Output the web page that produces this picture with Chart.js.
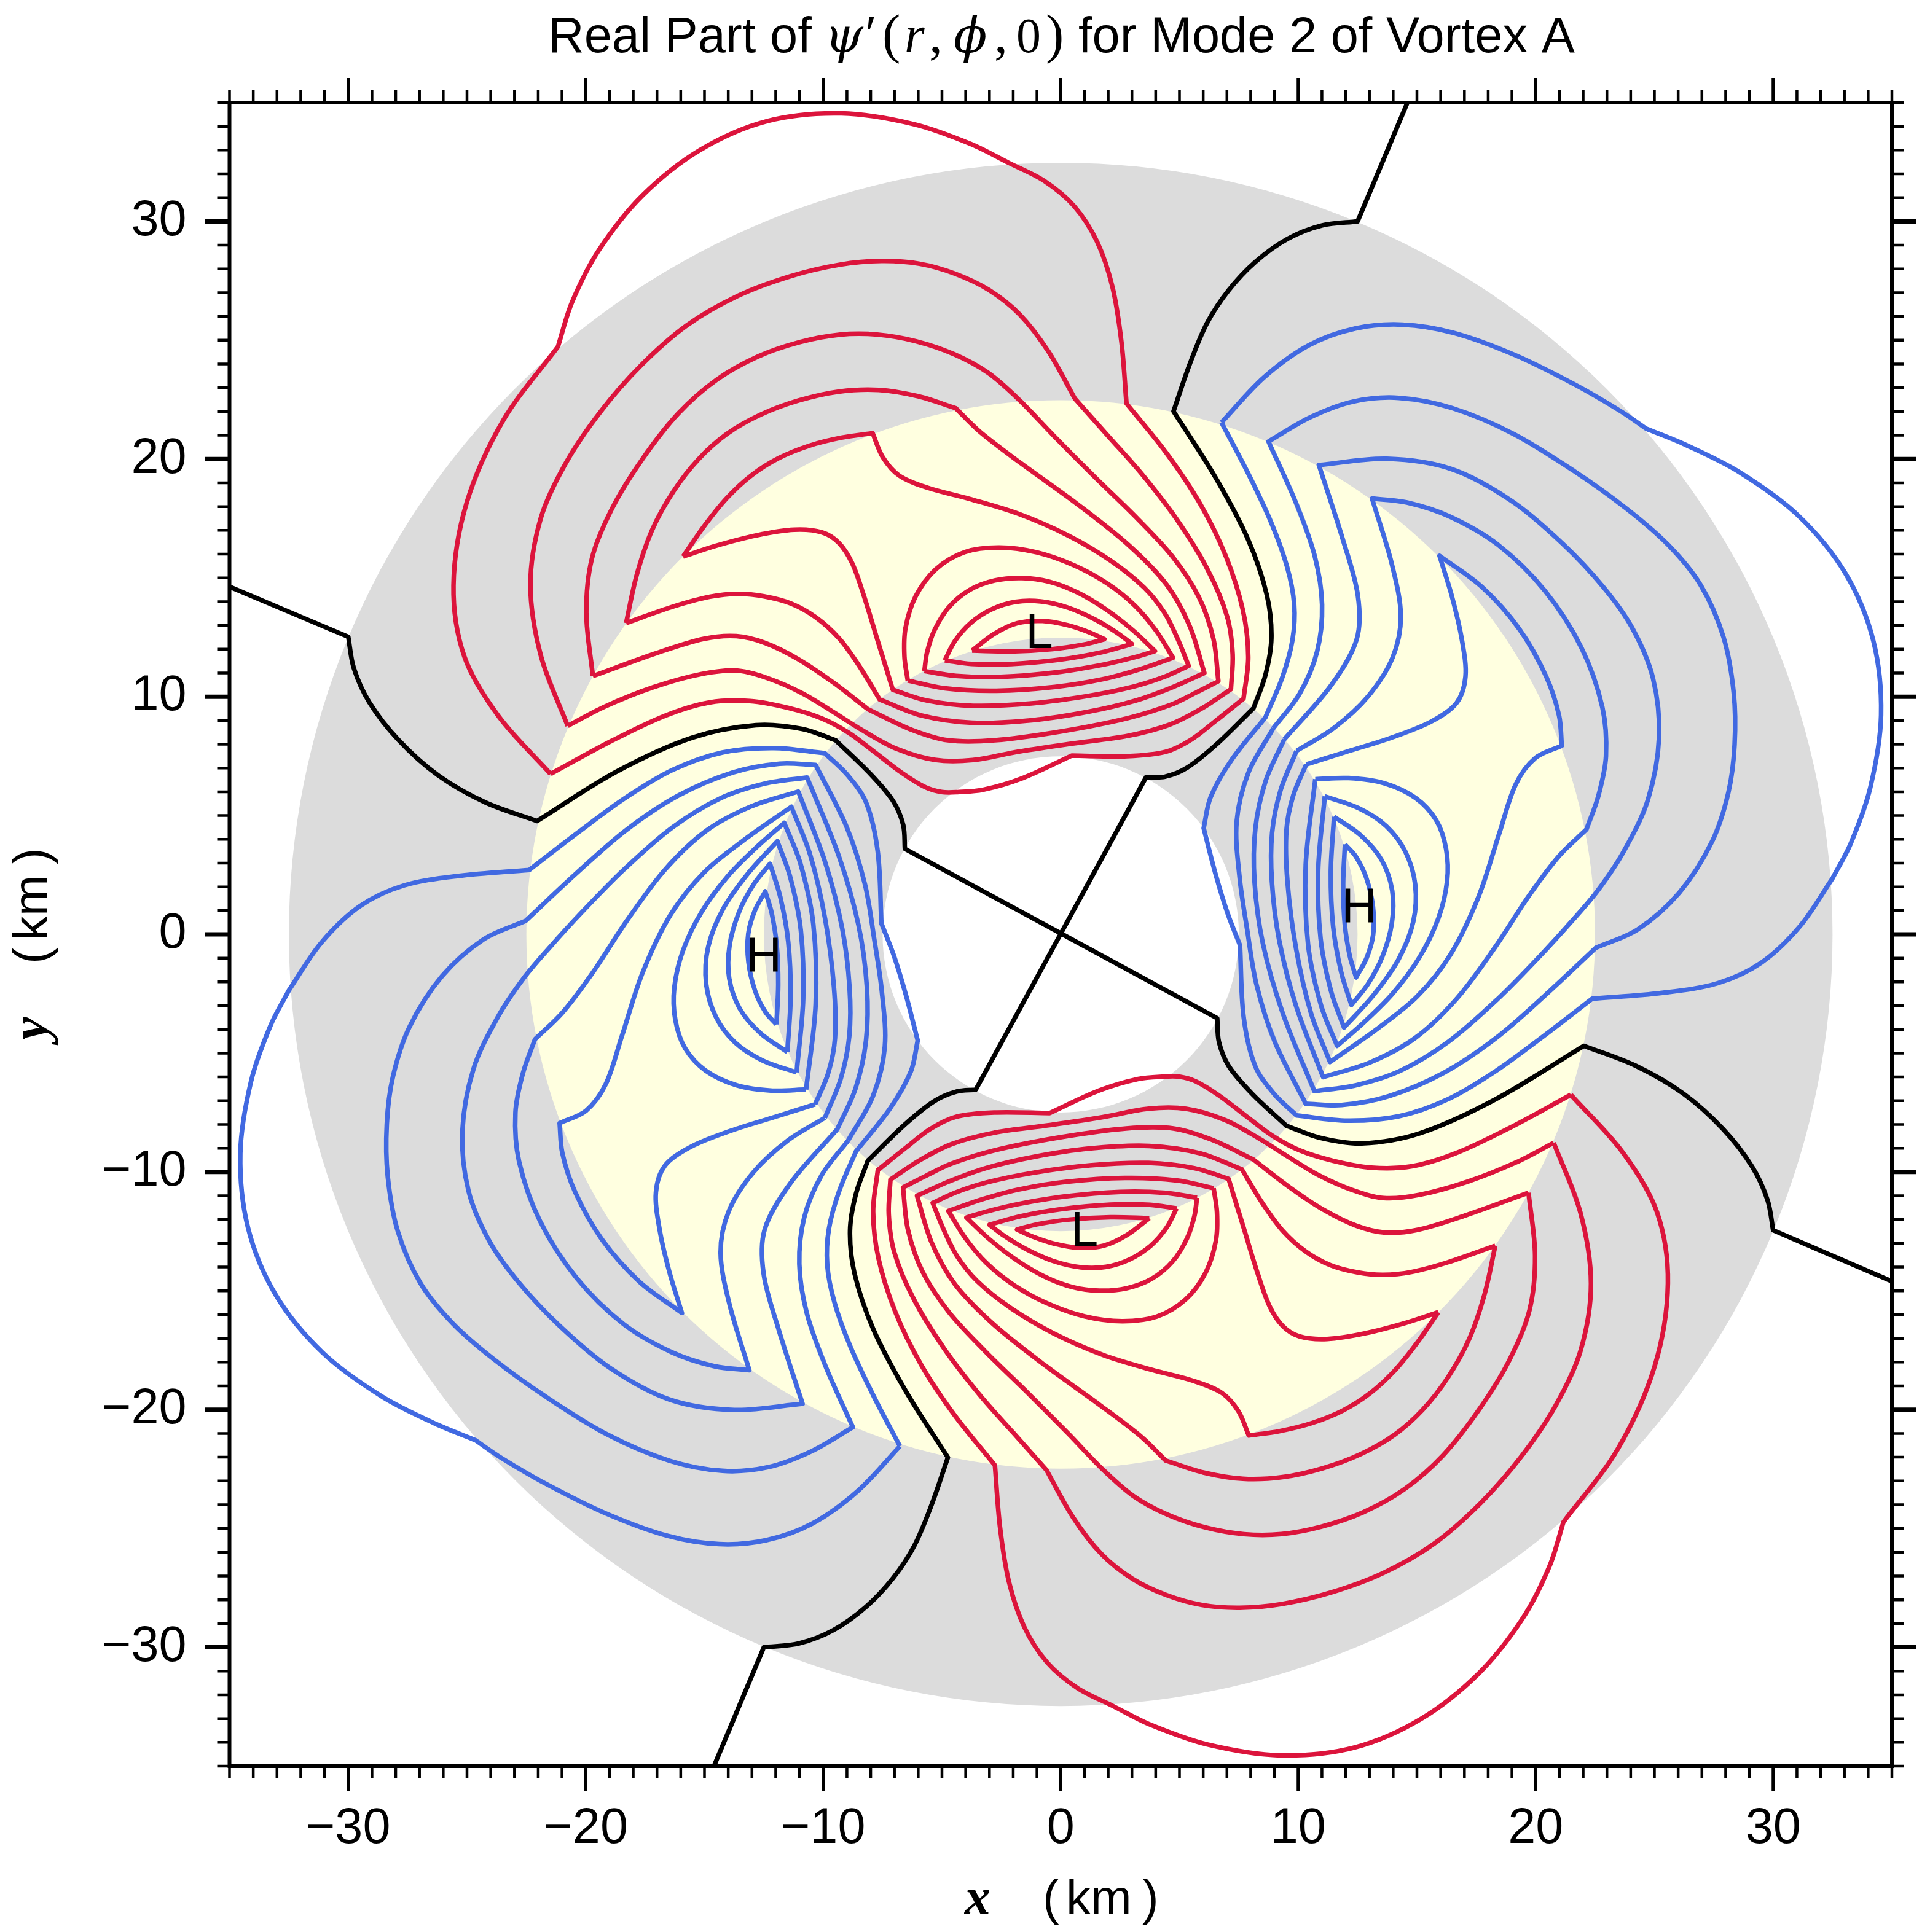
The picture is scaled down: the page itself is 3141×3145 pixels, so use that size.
<!DOCTYPE html>
<html>
<head>
<meta charset="utf-8">
<title>Real Part of psi' for Mode 2 of Vortex A</title>
<script src="https://cdn.jsdelivr.net/npm/chart.js@4"></script>
<style>
  html, body { margin: 0; padding: 0; background: #fff; }
  canvas { display: block; }
</style>
</head>
<body>
<canvas id="chart" width="3141" height="3145"></canvas>
<script>
// contours are flat x,y lists in km; a pair written twice is a sharp corner
const redTop1 = [-3.73,11.94, -2.77,12.71, -1.85,13.08, -0.81,13.21, 0.34,13.01, 1.27,12.66, 1.84,12.42, 1.84,12.42, 1.27,12.22, -0.47,12.0, -2.2,11.85, -3.73,11.94];
const redTop2 = [-4.88,11.53, -4.51,12.32, -3.81,13.11, -2.89,13.7, -1.85,13.97, -0.93,14.0, 0.34,13.8, 1.5,13.2, 2.42,12.66, 3.0,12.22, 3.0,12.22, 1.84,11.87, 0.11,11.58, -2.2,11.33, -3.93,11.38, -4.88,11.53];
const redTop3 = [-5.74,11.08, -5.66,11.72, -5.32,12.81, -4.74,13.8, -3.81,14.5, -2.78,14.89, -1.62,14.97, -0.47,14.84, 0.69,14.4, 1.84,13.7, 3.21,12.71, 3.97,11.92, 3.97,11.92, 3.21,11.67, 1.7,11.37, 0.11,11.03, -2.78,10.78, -4.51,10.88, -5.74,11.08];
const redTop4 = [-6.44,10.68, -6.59,11.72, -6.53,12.71, -6.13,14.3, -5.32,15.39, -3.93,16.08, -2.66,16.28, -1.04,16.08, 0.69,15.49, 1.84,14.79, 3.21,13.8, 4.0,12.82, 4.73,11.64, 4.73,11.64, 3.21,11.08, 1.7,10.78, 0.11,10.44, -2.89,10.19, -5.09,10.34, -6.44,10.68];
const redTop5 = [-15.9,15.9, -15.0,17.2, -14.07,18.38, -13.0,19.3, -11.93,20.03, -10.6,20.55, -9.16,20.94, -7.92,21.09, -7.92,21.09, -7.46,20.03, -6.8,19.24, -5.74,18.84, -3.76,18.31, -1.78,17.72, 0.2,16.86, 2.18,15.67, 3.63,14.51, 4.27,13.62, 4.93,12.43, 5.39,11.3, 5.39,11.3, 4.4,10.85, 3.21,10.44, 1.1,10.05, -1.04,9.74, -3.93,9.55, -5.66,9.84, -7.07,10.29, -7.07,10.29, -7.74,12.32, -8.32,14.4, -8.78,15.59, -9.36,16.48, -10.05,16.87, -11.2,17.04, -12.59,16.87, -14.9,16.23, -15.9,15.9];
const redTop6 = [-18.3,13.1, -17.9,15.1, -17.21,17.06, -16.3,18.6, -15.23,20.03, -14.0,21.05, -12.76,21.85, -11.0,22.45, -9.16,22.84, -7.98,22.93, -5.74,22.67, -4.42,22.14, -4.42,22.14, -3.63,21.2, -1.78,19.9, 0.86,18.05, 2.84,16.33, 4.53,14.67, 5.45,13.09, 6.05,11.0, 6.05,11.0, 4.6,10.4, 3.21,9.79, 1.1,9.4, -1.04,9.05, -3.93,8.85, -5.9,9.15, -7.63,9.89, -7.63,9.89, -8.44,11.23, -9.36,12.52, -10.28,13.31, -11.32,13.9, -12.59,14.25, -13.52,14.3, -14.9,14.15, -16.06,13.93, -18.3,13.1];
const redTop7 = [-19.7,10.87, -20.1,13.76, -19.75,15.7, -18.86,17.88, -17.6,20.0, -16.06,22.01, -14.5,23.3, -12.76,24.32, -11.0,24.9, -9.16,25.23, -7.85,25.24, -6.1,24.95, -4.42,24.39, -3.0,23.6, -1.78,22.54, -0.46,21.09, 1.52,19.11, 3.21,17.5, 4.66,15.99, 5.85,14.17, 6.51,12.42, 6.64,10.65, 6.64,10.65, 5.6,10.15, 4.53,9.7, 3.21,9.1, 0.11,8.55, -3.35,8.16, -4.5,8.16, -6.24,8.56, -8.11,9.47, -8.11,9.47, -9.7,10.63, -10.86,11.53, -12.59,12.32, -13.75,12.5, -14.9,12.42, -16.88,11.94, -19.7,10.87];
const redTop8 = [-20.76,8.77, -21.99,11.62, -22.41,14.58, -21.83,17.88, -20.84,19.54, -19.35,22.0, -17.7,23.99, -15.73,25.56, -13.58,26.96, -11.44,27.62, -9.16,28.2, -7.59,28.32, -6.0,28.2, -4.42,27.82, -3.0,27.05, -1.78,26.1, -0.46,24.65, 0.6,22.54, 0.6,22.54, 2.18,20.69, 3.21,19.62, 4.93,17.44, 6.25,15.33, 7.04,13.22, 7.24,11.9, 7.17,10.32, 7.17,10.32, 5.85,9.52, 4.53,8.8, 3.21,8.3, 0.11,8.06, -1.62,7.81, -3.93,7.27, -5.09,7.27, -6.82,7.76, -8.67,8.75, -9.36,9.25, -10.86,10.14, -12.36,10.83, -13.75,11.05, -14.9,10.93, -16.88,10.6, -19.77,9.34, -20.76,8.77];
const redTop9 = [-21.48,6.75, -23.97,9.34, -24.97,11.62, -25.54,14.58, -25.13,18.05, -23.48,22.01, -21.17,24.73, -21.17,24.73, -20.67,26.47, -19.48,28.72, -17.6,31.16, -15.18,33.03, -12.34,34.2, -9.3,34.6, -6.26,34.2, -3.43,33.03, -2.18,32.46, -2.18,32.46, -0.72,31.84, 0.6,30.59, 1.52,29.14, 2.18,27.29, 2.58,24.91, 2.77,22.34, 2.77,22.34, 4.53,20.08, 5.85,18.24, 6.91,16.12, 7.7,13.22, 7.99,11.9, 7.7,9.92, 7.7,9.92, 6.51,8.99, 5.45,8.2, 4.27,7.61, 3.21,7.52, 0.46,7.52, 0.46,7.52, -1.62,6.38, -3.35,6.1, -4.39,6.1, -4.97,5.98, -5.66,6.18, -6.59,6.67, -7.97,7.76, -9.01,8.6, -9.94,8.95, -11.44,9.55, -13.17,9.84, -14.9,9.69, -16.4,9.34, -19.0,8.1, -21.48,6.75];

const redBottom1 = [3.73,-11.94, 2.77,-12.71, 1.85,-13.08, 0.81,-13.21, -0.34,-13.01, -1.27,-12.66, -1.84,-12.42, -1.84,-12.42, -1.27,-12.22, 0.47,-12.0, 2.2,-11.85, 3.73,-11.94];
const redBottom2 = [4.88,-11.53, 4.51,-12.32, 3.81,-13.11, 2.89,-13.7, 1.85,-13.97, 0.93,-14.0, -0.34,-13.8, -1.5,-13.2, -2.42,-12.66, -3.0,-12.22, -3.0,-12.22, -1.84,-11.87, -0.11,-11.58, 2.2,-11.33, 3.93,-11.38, 4.88,-11.53];
const redBottom3 = [5.74,-11.08, 5.66,-11.72, 5.32,-12.81, 4.74,-13.8, 3.81,-14.5, 2.78,-14.89, 1.62,-14.97, 0.47,-14.84, -0.69,-14.4, -1.84,-13.7, -3.21,-12.71, -3.97,-11.92, -3.97,-11.92, -3.21,-11.67, -1.7,-11.37, -0.11,-11.03, 2.78,-10.78, 4.51,-10.88, 5.74,-11.08];
const redBottom4 = [6.44,-10.68, 6.59,-11.72, 6.53,-12.71, 6.13,-14.3, 5.32,-15.39, 3.93,-16.08, 2.66,-16.28, 1.04,-16.08, -0.69,-15.49, -1.84,-14.79, -3.21,-13.8, -4.0,-12.82, -4.73,-11.64, -4.73,-11.64, -3.21,-11.08, -1.7,-10.78, -0.11,-10.44, 2.89,-10.19, 5.09,-10.34, 6.44,-10.68];
const redBottom5 = [15.9,-15.9, 15.0,-17.2, 14.07,-18.38, 13.0,-19.3, 11.93,-20.03, 10.6,-20.55, 9.16,-20.94, 7.92,-21.09, 7.92,-21.09, 7.46,-20.03, 6.8,-19.24, 5.74,-18.84, 3.76,-18.31, 1.78,-17.72, -0.2,-16.86, -2.18,-15.67, -3.63,-14.51, -4.27,-13.62, -4.93,-12.43, -5.39,-11.3, -5.39,-11.3, -4.4,-10.85, -3.21,-10.44, -1.1,-10.05, 1.04,-9.74, 3.93,-9.55, 5.66,-9.84, 7.07,-10.29, 7.07,-10.29, 7.74,-12.32, 8.32,-14.4, 8.78,-15.59, 9.36,-16.48, 10.05,-16.87, 11.2,-17.04, 12.59,-16.87, 14.9,-16.23, 15.9,-15.9];
const redBottom6 = [18.3,-13.1, 17.9,-15.1, 17.21,-17.06, 16.3,-18.6, 15.23,-20.03, 14.0,-21.05, 12.76,-21.85, 11.0,-22.45, 9.16,-22.84, 7.98,-22.93, 5.74,-22.67, 4.42,-22.14, 4.42,-22.14, 3.63,-21.2, 1.78,-19.9, -0.86,-18.05, -2.84,-16.33, -4.53,-14.67, -5.45,-13.09, -6.05,-11.0, -6.05,-11.0, -4.6,-10.4, -3.21,-9.79, -1.1,-9.4, 1.04,-9.05, 3.93,-8.85, 5.9,-9.15, 7.63,-9.89, 7.63,-9.89, 8.44,-11.23, 9.36,-12.52, 10.28,-13.31, 11.32,-13.9, 12.59,-14.25, 13.52,-14.3, 14.9,-14.15, 16.06,-13.93, 18.3,-13.1];
const redBottom7 = [19.7,-10.87, 20.1,-13.76, 19.75,-15.7, 18.86,-17.88, 17.6,-20.0, 16.06,-22.01, 14.5,-23.3, 12.76,-24.32, 11.0,-24.9, 9.16,-25.23, 7.85,-25.24, 6.1,-24.95, 4.42,-24.39, 3.0,-23.6, 1.78,-22.54, 0.46,-21.09, -1.52,-19.11, -3.21,-17.5, -4.66,-15.99, -5.85,-14.17, -6.51,-12.42, -6.64,-10.65, -6.64,-10.65, -5.6,-10.15, -4.53,-9.7, -3.21,-9.1, -0.11,-8.55, 3.35,-8.16, 4.5,-8.16, 6.24,-8.56, 8.11,-9.47, 8.11,-9.47, 9.7,-10.63, 10.86,-11.53, 12.59,-12.32, 13.75,-12.5, 14.9,-12.42, 16.88,-11.94, 19.7,-10.87];
const redBottom8 = [20.76,-8.77, 21.99,-11.62, 22.41,-14.58, 21.83,-17.88, 20.84,-19.54, 19.35,-22.0, 17.7,-23.99, 15.73,-25.56, 13.58,-26.96, 11.44,-27.62, 9.16,-28.2, 7.59,-28.32, 6.0,-28.2, 4.42,-27.82, 3.0,-27.05, 1.78,-26.1, 0.46,-24.65, -0.6,-22.54, -0.6,-22.54, -2.18,-20.69, -3.21,-19.62, -4.93,-17.44, -6.25,-15.33, -7.04,-13.22, -7.24,-11.9, -7.17,-10.32, -7.17,-10.32, -5.85,-9.52, -4.53,-8.8, -3.21,-8.3, -0.11,-8.06, 1.62,-7.81, 3.93,-7.27, 5.09,-7.27, 6.82,-7.76, 8.67,-8.75, 9.36,-9.25, 10.86,-10.14, 12.36,-10.83, 13.75,-11.05, 14.9,-10.93, 16.88,-10.6, 19.77,-9.34, 20.76,-8.77];
const redBottom9 = [21.48,-6.75, 23.97,-9.34, 24.97,-11.62, 25.54,-14.58, 25.13,-18.05, 23.48,-22.01, 21.17,-24.73, 21.17,-24.73, 20.67,-26.47, 19.48,-28.72, 17.6,-31.16, 15.18,-33.03, 12.34,-34.2, 9.3,-34.6, 6.26,-34.2, 3.43,-33.03, 2.18,-32.46, 2.18,-32.46, 0.72,-31.84, -0.6,-30.59, -1.52,-29.14, -2.18,-27.29, -2.58,-24.91, -2.77,-22.34, -2.77,-22.34, -4.53,-20.08, -5.85,-18.24, -6.91,-16.12, -7.7,-13.22, -7.99,-11.9, -7.7,-9.92, -7.7,-9.92, -6.51,-8.99, -5.45,-8.2, -4.27,-7.61, -3.21,-7.52, -0.46,-7.52, -0.46,-7.52, 1.62,-6.38, 3.35,-6.1, 4.39,-6.1, 4.97,-5.98, 5.66,-6.18, 6.59,-6.67, 7.97,-7.76, 9.01,-8.6, 9.94,-8.95, 11.44,-9.55, 13.17,-9.84, 14.9,-9.69, 16.4,-9.34, 19.0,-8.1, 21.48,-6.75];

const blueRight1 = [11.97,3.79, 12.37,3.37, 12.9,2.44, 13.16,1.12, 13.16,-0.07, 12.9,-0.99, 12.44,-1.81, 12.44,-1.81, 12.17,-0.99, 11.97,0.33, 11.84,2.31, 11.97,3.79];
const blueRight2 = [11.51,4.95, 12.63,4.29, 13.56,3.1, 13.95,1.78, 13.95,0.59, 13.56,-0.99, 12.9,-2.18, 12.24,-2.97, 12.24,-2.97, 11.84,-1.78, 11.45,0.33, 11.31,2.71, 11.51,4.95];
const blueRight3 = [11.12,5.81, 12.63,5.35, 13.69,4.55, 14.48,3.5, 14.94,2.05, 14.88,0.59, 14.22,-1.12, 13.16,-2.57, 11.93,-3.92, 11.93,-3.92, 11.45,-2.71, 10.92,-0.07, 10.72,2.71, 11.12,5.81];
const blueRight4 = [10.72,6.53, 11.97,6.64, 13.69,6.34, 15.01,5.74, 15.8,4.82, 16.2,3.5, 16.26,2.31, 15.93,0.73, 15.14,-0.99, 13.95,-2.57, 12.77,-3.63, 11.64,-4.69, 11.64,-4.69, 11.05,-3.37, 10.39,-0.33, 10.15,2.97, 10.72,6.53];
const blueRight5 = [10.34,7.15, 12.0,7.7, 13.77,8.27, 15.75,8.93, 16.67,9.79, 17.0,10.84, 16.94,12.16, 16.41,14.54, 15.95,15.93, 15.95,15.93, 17.73,14.8, 19.31,12.96, 20.5,10.58, 21.03,9.26, 21.1,7.94, 21.1,7.94, 19.89,7.39, 19.1,6.4, 18.57,4.55, 17.65,1.39, 16.33,-0.99, 15.01,-2.57, 13.43,-3.89, 11.34,-5.37, 11.34,-5.37, 10.52,-3.63, 9.93,-0.73, 9.53,2.44, 9.53,4.55, 9.73,5.61, 10.34,7.15];
const blueRight6 = [9.93,7.72, 11.4,8.7, 12.98,9.79, 14.03,11.9, 14.3,13.48, 14.03,15.2, 13.11,18.34, 13.11,18.34, 14.43,18.24, 16.41,17.58, 18.39,16.39, 20.37,14.54, 21.95,12.16, 22.88,9.26, 22.94,7.68, 22.61,5.72, 22.14,4.42, 22.14,4.42, 20.95,3.37, 19.76,1.78, 18.31,-0.59, 16.59,-2.84, 15.01,-4.29, 13.03,-5.48, 11.05,-6.01, 11.05,-6.01, 9.73,-2.97, 9.27,-0.33, 8.94,2.31, 8.87,4.29, 9.2,6.0, 9.93,7.72];
const blueRight7 = [9.41,8.2, 11.66,10.58, 12.45,12.56, 12.45,14.14, 11.92,16.52, 10.87,19.75, 10.87,19.75, 13.77,20.22, 16.41,19.56, 19.05,18.24, 21.03,16.52, 23.01,14.27, 23.91,13.09, 24.91,10.89, 25.31,8.25, 24.78,5.61, 23.59,3.5, 22.51,1.65, 21.61,0.73, 20.29,-0.73, 18.31,-2.84, 16.33,-4.55, 14.35,-5.74, 12.37,-6.4, 10.68,-6.6, 10.68,-6.6, 9.07,-3.23, 8.67,-0.46, 8.21,2.31, 8.08,4.29, 8.67,6.67, 9.41,8.2];
const blueRight8 = [8.95,8.67, 10.07,10.05, 10.87,11.9, 11.0,13.88, 10.6,16.12, 10.07,17.84, 8.75,20.74, 8.75,20.74, 10.47,21.87, 12.45,22.39, 14.17,22.53, 16.41,22.2, 19.05,21.14, 21.69,19.42, 23.91,17.77, 25.5,16.35, 26.93,14.95, 27.97,12.35, 28.33,10.2, 28.33,7.94, 28.0,5.9, 27.6,4.2, 26.1,1.65, 24.12,-0.07, 22.53,-0.57, 22.53,-0.57, 20.29,-2.57, 18.31,-4.42, 16.33,-5.74, 13.69,-6.93, 11.71,-7.19, 10.32,-7.13, 10.32,-7.13, 8.81,-4.29, 8.21,-2.31, 8.01,0.33, 7.62,2.31, 7.22,4.69, 7.88,6.93, 8.95,8.67];
const blueRight9 = [6.77,21.54, 8.49,23.52, 10.47,24.84, 12.45,25.43, 14.43,25.63, 16.41,25.36, 19.05,24.44, 21.69,23.12, 23.91,21.8, 24.65,21.28, 24.65,21.28, 25.89,20.65, 28.72,19.48, 31.16,17.6, 33.03,15.18, 34.2,12.34, 34.6,9.3, 34.2,6.26, 33.03,3.43, 32.49,2.34, 32.49,2.34, 31.6,0.41, 29.0,-1.4, 27.79,-1.98, 25.57,-2.44, 22.38,-2.71, 22.38,-2.71, 20.29,-4.29, 18.31,-5.74, 16.33,-6.93, 14.35,-7.66, 11.97,-7.92, 9.93,-7.62, 9.93,-7.62, 9.07,-6.67, 8.15,-5.48, 7.62,-3.89, 7.55,-0.46, 7.55,-0.46, 7.09,0.33, 6.45,3.0, 6.02,4.47, 6.02,4.47, 6.11,5.72, 7.17,7.28, 8.62,9.13, 8.62,9.13, 9.41,10.71, 9.74,12.56, 9.81,13.88, 9.55,15.33, 8.89,17.44, 7.83,19.42, 6.77,21.54];

const blueLeft1 = [-11.97,-3.79, -12.37,-3.37, -12.9,-2.44, -13.16,-1.12, -13.16,0.07, -12.9,0.99, -12.44,1.81, -12.44,1.81, -12.17,0.99, -11.97,-0.33, -11.84,-2.31, -11.97,-3.79];
const blueLeft2 = [-11.51,-4.95, -12.63,-4.29, -13.56,-3.1, -13.95,-1.78, -13.95,-0.59, -13.56,0.99, -12.9,2.18, -12.24,2.97, -12.24,2.97, -11.84,1.78, -11.45,-0.33, -11.31,-2.71, -11.51,-4.95];
const blueLeft3 = [-11.12,-5.81, -12.63,-5.35, -13.69,-4.55, -14.48,-3.5, -14.94,-2.05, -14.88,-0.59, -14.22,1.12, -13.16,2.57, -11.93,3.92, -11.93,3.92, -11.45,2.71, -10.92,0.07, -10.72,-2.71, -11.12,-5.81];
const blueLeft4 = [-10.72,-6.53, -11.97,-6.64, -13.69,-6.34, -15.01,-5.74, -15.8,-4.82, -16.2,-3.5, -16.26,-2.31, -15.93,-0.73, -15.14,0.99, -13.95,2.57, -12.77,3.63, -11.64,4.69, -11.64,4.69, -11.05,3.37, -10.39,0.33, -10.15,-2.97, -10.72,-6.53];
const blueLeft5 = [-10.34,-7.15, -12.0,-7.7, -13.77,-8.27, -15.75,-8.93, -16.67,-9.79, -17.0,-10.84, -16.94,-12.16, -16.41,-14.54, -15.95,-15.93, -15.95,-15.93, -17.73,-14.8, -19.31,-12.96, -20.5,-10.58, -21.03,-9.26, -21.1,-7.94, -21.1,-7.94, -19.89,-7.39, -19.1,-6.4, -18.57,-4.55, -17.65,-1.39, -16.33,0.99, -15.01,2.57, -13.43,3.89, -11.34,5.37, -11.34,5.37, -10.52,3.63, -9.93,0.73, -9.53,-2.44, -9.53,-4.55, -9.73,-5.61, -10.34,-7.15];
const blueLeft6 = [-9.93,-7.72, -11.4,-8.7, -12.98,-9.79, -14.03,-11.9, -14.3,-13.48, -14.03,-15.2, -13.11,-18.34, -13.11,-18.34, -14.43,-18.24, -16.41,-17.58, -18.39,-16.39, -20.37,-14.54, -21.95,-12.16, -22.88,-9.26, -22.94,-7.68, -22.61,-5.72, -22.14,-4.42, -22.14,-4.42, -20.95,-3.37, -19.76,-1.78, -18.31,0.59, -16.59,2.84, -15.01,4.29, -13.03,5.48, -11.05,6.01, -11.05,6.01, -9.73,2.97, -9.27,0.33, -8.94,-2.31, -8.87,-4.29, -9.2,-6.0, -9.93,-7.72];
const blueLeft7 = [-9.41,-8.2, -11.66,-10.58, -12.45,-12.56, -12.45,-14.14, -11.92,-16.52, -10.87,-19.75, -10.87,-19.75, -13.77,-20.22, -16.41,-19.56, -19.05,-18.24, -21.03,-16.52, -23.01,-14.27, -23.91,-13.09, -24.91,-10.89, -25.31,-8.25, -24.78,-5.61, -23.59,-3.5, -22.51,-1.65, -21.61,-0.73, -20.29,0.73, -18.31,2.84, -16.33,4.55, -14.35,5.74, -12.37,6.4, -10.68,6.6, -10.68,6.6, -9.07,3.23, -8.67,0.46, -8.21,-2.31, -8.08,-4.29, -8.67,-6.67, -9.41,-8.2];
const blueLeft8 = [-8.95,-8.67, -10.07,-10.05, -10.87,-11.9, -11.0,-13.88, -10.6,-16.12, -10.07,-17.84, -8.75,-20.74, -8.75,-20.74, -10.47,-21.87, -12.45,-22.39, -14.17,-22.53, -16.41,-22.2, -19.05,-21.14, -21.69,-19.42, -23.91,-17.77, -25.5,-16.35, -26.93,-14.95, -27.97,-12.35, -28.33,-10.2, -28.33,-7.94, -28.0,-5.9, -27.6,-4.2, -26.1,-1.65, -24.12,0.07, -22.53,0.57, -22.53,0.57, -20.29,2.57, -18.31,4.42, -16.33,5.74, -13.69,6.93, -11.71,7.19, -10.32,7.13, -10.32,7.13, -8.81,4.29, -8.21,2.31, -8.01,-0.33, -7.62,-2.31, -7.22,-4.69, -7.88,-6.93, -8.95,-8.67];
const blueLeft9 = [-6.77,-21.54, -8.49,-23.52, -10.47,-24.84, -12.45,-25.43, -14.43,-25.63, -16.41,-25.36, -19.05,-24.44, -21.69,-23.12, -23.91,-21.8, -24.65,-21.28, -24.65,-21.28, -25.89,-20.65, -28.72,-19.48, -31.16,-17.6, -33.03,-15.18, -34.2,-12.34, -34.6,-9.3, -34.2,-6.26, -33.03,-3.43, -32.49,-2.34, -32.49,-2.34, -31.6,-0.41, -29.0,1.4, -27.79,1.98, -25.57,2.44, -22.38,2.71, -22.38,2.71, -20.29,4.29, -18.31,5.74, -16.33,6.93, -14.35,7.66, -11.97,7.92, -9.93,7.62, -9.93,7.62, -9.07,6.67, -8.15,5.48, -7.62,3.89, -7.55,0.46, -7.55,0.46, -7.09,-0.33, -6.45,-3.0, -6.02,-4.47, -6.02,-4.47, -6.11,-5.72, -7.17,-7.28, -8.62,-9.13, -8.62,-9.13, -9.41,-10.71, -9.74,-12.56, -9.81,-13.88, -9.55,-15.33, -8.89,-17.44, -7.83,-19.42, -6.77,-21.54];

const blackA = [14.6,35, 12.5,30, 12.5,30, 10.95,29.95, 9.68,29.27, 8.12,28.28, 7.06,27.03, 6.14,25.71, 5.48,24.12, 4.75,22.01, 4.75,22.01, 6.64,19.03, 7.83,16.92, 8.75,13.88, 8.86,12.69, 8.62,10.84, 8.12,9.52, 8.12,9.52, 6.51,7.94, 5.32,6.95, 4.4,6.65, 3.6,6.62, 3.6,6.62, -3.58,-6.54, -3.58,-6.54, -4.4,-6.65, -5.32,-6.95, -6.51,-7.94, -8.12,-9.52, -8.12,-9.52, -8.62,-10.84, -8.86,-12.69, -8.75,-13.88, -7.83,-16.92, -6.64,-19.03, -4.75,-22.01, -4.75,-22.01, -5.48,-24.12, -6.14,-25.71, -7.06,-27.03, -8.12,-28.28, -9.68,-29.27, -10.95,-29.95, -12.5,-30, -12.5,-30, -14.6,-35];
const blackB = [-35,14.63, -30,12.52, -30,12.52, -29.75,11.12, -29.27,9.96, -27.79,8.12, -26.23,6.67, -24.25,5.48, -22.05,4.77, -22.05,4.77, -18.73,6.9, -15.62,8.35, -12.66,8.82, -10.86,8.6, -9.47,8.16, -9.47,8.16, -7.97,6.67, -7.05,5.68, -6.59,4.6, -6.56,3.6, -6.56,3.6, 6.59,-3.53, 6.59,-3.53, 6.65,-4.6, 7.05,-5.5, 7.97,-6.67, 9.5,-8.05, 9.5,-8.05, 10.79,-8.51, 12.77,-8.78, 15.01,-8.45, 18.31,-7.06, 22.03,-4.69, 22.03,-4.69, 24.25,-5.48, 26.23,-6.67, 27.79,-8.12, 29.27,-9.96, 29.75,-11.12, 30,-12.45, 30,-12.45, 35,-14.6];

const redContours = [redTop1, redTop2, redTop3, redTop4, redTop5, redTop6, redTop7, redTop8, redTop9, redBottom1, redBottom2, redBottom3, redBottom4, redBottom5, redBottom6, redBottom7, redBottom8, redBottom9];
const blueContours = [blueRight1, blueRight2, blueRight3, blueRight4, blueRight5, blueRight6, blueRight7, blueRight8, blueRight9, blueLeft1, blueLeft2, blueLeft3, blueLeft4, blueLeft5, blueLeft6, blueLeft7, blueLeft8, blueLeft9];
const blackContours = [blackA, blackB];

const tickLabels = [-30, -20, -10, 0, 10, 20, 30];
const ringRadii = [32.5, 22.5, 12.5, 7.5];
const ringColors = ['#dcdcdc', '#ffffe0', '#dcdcdc', '#ffffff'];
const extremaText = ['L', 'L', 'H', 'H'];
const extremaX = [-0.9, 1.0, 12.57, -12.5];
const extremaY = [12.8, -12.35, 1.27, -0.8];

const SANS = '"Liberation Sans", Arial, sans-serif';
const MATH = '"Liberation Serif", serif';
const GREEK = '"DejaVu Serif", serif';

function toPoints(flat) {
    const pts = [];
    for (let i = 0; i < flat.length; i += 2) {
        pts.push({ x: flat[i], y: flat[i + 1] });
    }
    return pts;
}

// evens out the reading error of the hand-read points; corners and ends stay put
function evenOut(pts) {
    const same = (a, b) => a && b && a.x === b.x && a.y === b.y;
    const fixed = pts.map((p, i) => i === 0 || i === pts.length - 1 || same(p, pts[i - 1]) || same(p, pts[i + 1]));
    let cur = pts;
    [0.6, -0.62, 0.6, -0.62].forEach(k => {
        cur = cur.map((p, i) => fixed[i] ? p : {
            x: p.x + k * ((cur[i - 1].x + cur[i + 1].x) / 2 - p.x),
            y: p.y + k * ((cur[i - 1].y + cur[i + 1].y) / 2 - p.y)
        });
    });
    return cur;
}

function contourDataset(flat, color) {
    return {
        data: evenOut(toPoints(flat)),
        showLine: true,
        borderColor: color,
        borderWidth: 7.5,
        borderJoinStyle: 'round',
        tension: 0.33,
        pointRadius: 0,
        fill: false
    };
}

const datasets = [
    ...redContours.map(c => contourDataset(c, '#dc143c')),
    ...blueContours.map(c => contourDataset(c, '#4169e1')),
    ...blackContours.map(c => contourDataset(c, '#000000'))
];

function drawSegments(ctx, segments, y) {
    segments.forEach(s => {
        ctx.font = s.font;
        ctx.fillText(s.text, s.x, y);
    });
}

const ringsPlugin = {
    id: 'rings',
    beforeDatasetsDraw(chart) {
        const { ctx, scales: { x, y }, chartArea } = chart;
        ctx.save();
        ctx.beginPath();
        ctx.rect(chartArea.left, chartArea.top, chartArea.width, chartArea.height);
        ctx.clip();
        ringRadii.forEach((r, i) => {
            ctx.fillStyle = ringColors[i];
            ctx.beginPath();
            ctx.arc(x.getPixelForValue(0), y.getPixelForValue(0), x.getPixelForValue(r) - x.getPixelForValue(0), 0, Math.PI * 2);
            ctx.fill();
        });
        ctx.restore();
    }
};

const framePlugin = {
    id: 'frame',
    afterDatasetsDraw(chart) {
        const { ctx, scales: { x, y }, chartArea: a } = chart;
        ctx.save();
        ctx.fillStyle = '#000';
        ctx.font = '80px ' + SANS;
        ctx.textAlign = 'center';
        ctx.textBaseline = 'alphabetic';
        extremaText.forEach((t, i) => {
            ctx.fillText(t, x.getPixelForValue(extremaX[i]), y.getPixelForValue(extremaY[i]) + 29);
        });

        ctx.strokeStyle = '#000';
        ctx.lineCap = 'butt';
        for (let v = -35; v <= 35; v++) {
            const major = v % 10 === 0;
            const len = major ? 40 : 20;
            const px = x.getPixelForValue(v);
            const py = y.getPixelForValue(v);
            ctx.lineWidth = major ? 5 : 4.5;
            ctx.beginPath();
            ctx.moveTo(px, a.top);
            ctx.lineTo(px, a.top - len);
            ctx.moveTo(px, a.bottom);
            ctx.lineTo(px, a.bottom + len);
            ctx.stroke();
            ctx.lineWidth = major ? 7 : 4.5;
            ctx.beginPath();
            ctx.moveTo(a.left, py);
            ctx.lineTo(a.left - len, py);
            ctx.moveTo(a.right, py);
            ctx.lineTo(a.right + len, py);
            ctx.stroke();
        }
        ctx.lineWidth = 6;
        ctx.strokeRect(a.left, a.top, a.width, a.height);

        // title, mixed fonts like the LaTeX original
        ctx.textAlign = 'left';
        const sans = '81.2px ' + SANS;
        const greek = 'italic 80px ' + GREEK;
        const math = 'italic 84px ' + MATH;
        const roman = '88px ' + MATH;
        drawSegments(ctx, [
            { text: 'Real Part of', x: 892, font: sans },
            { text: '\u03c8', x: 1342, font: greek },
            { text: '\u2032', x: 1408, font: roman },
            { text: '(', x: 1436, font: roman },
            { text: 'r', x: 1472, font: math },
            { text: ',', x: 1512, font: roman },
            { text: '\u03d5', x: 1552, font: greek },
            { text: ',', x: 1618, font: roman },
            { text: '0', x: 1654, font: '80px ' + MATH },
            { text: ')', x: 1702, font: roman },
            { text: 'for Mode 2 of Vortex A', x: 1755, font: sans }
        ], 85);

        // x axis title
        const bold = 'italic bold 84px ' + MATH;
        const label = '80px ' + SANS;
        drawSegments(ctx, [
            { text: 'x', x: 1570, font: bold },
            { text: '(', x: 1697, font: label },
            { text: 'km', x: 1735, font: label },
            { text: ')', x: 1859, font: label }
        ], 3116);

        // y axis title
        ctx.translate(77, 1521);
        ctx.rotate(-Math.PI / 2);
        drawSegments(ctx, [
            { text: 'y', x: -172, font: bold },
            { text: '(', x: -48, font: label },
            { text: 'km', x: -10, font: label },
            { text: ')', x: 114, font: label }
        ], 0);
        ctx.restore();
    }
};

const tickOptions = pad => ({
    autoSkip: false,
    maxRotation: 0,
    padding: pad,
    color: '#000',
    font: { family: SANS, size: 81 },
    callback: v => (v < 0 ? '\u2212' + Math.abs(v) : String(v))
});

new Chart(document.getElementById('chart').getContext('2d'), {
    type: 'scatter',
    data: { datasets },
    plugins: [ringsPlugin, framePlugin],
    options: {
        responsive: false,
        animation: false,
        layout: { padding: { top: 167, right: 62, left: 0, bottom: 0 } },
        plugins: { legend: { display: false }, tooltip: { enabled: false } },
        scales: {
            x: {
                type: 'linear',
                min: -35,
                max: 35,
                grid: { display: false },
                border: { display: false },
                afterBuildTicks: s => { s.ticks = tickLabels.map(value => ({ value })); },
                afterFit: s => { s.height = 270; },
                ticks: tickOptions(46)
            },
            y: {
                type: 'linear',
                min: -35,
                max: 35,
                grid: { display: false },
                border: { display: false },
                afterBuildTicks: s => { s.ticks = tickLabels.map(value => ({ value })); },
                afterFit: s => { s.width = 373.5; },
                ticks: tickOptions(62)
            }
        }
    }
});
</script>
</body>
</html>
